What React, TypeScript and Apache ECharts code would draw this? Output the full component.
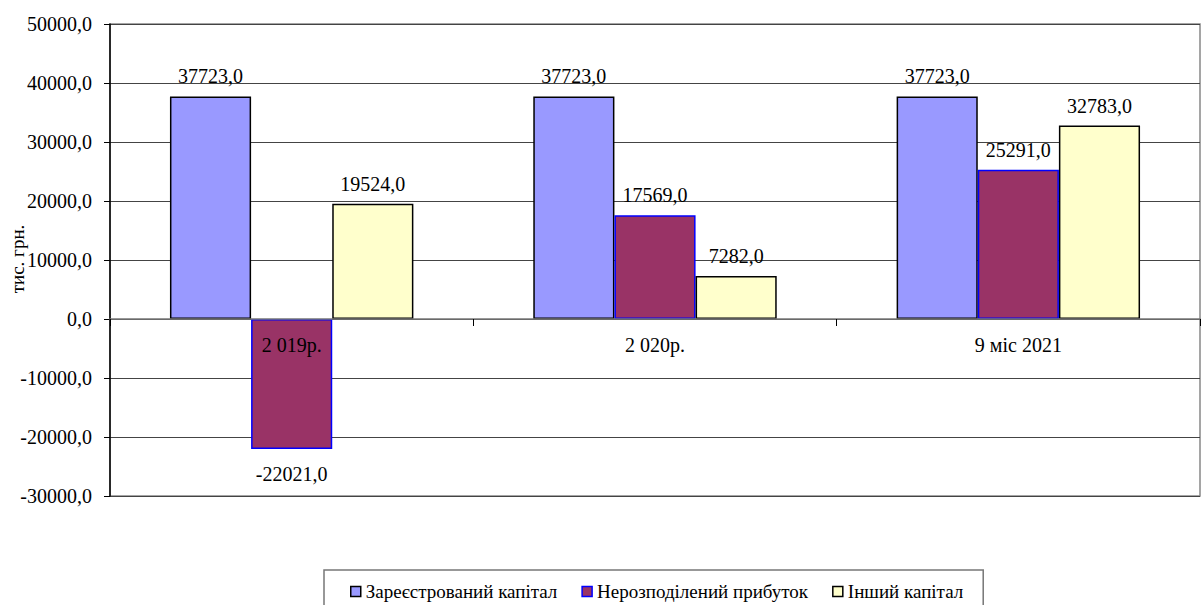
import React, { useEffect, useRef } from "react";
import * as echarts from "echarts";

// Equity structure by period, thousand UAH
const categories = ["2 019р.", "2 020р.", "9 міс 2021"];
const seriesNames = ["Зареєстрований капітал", "Нерозподілений прибуток", "Інший капітал"];
const registeredCapital = [37723, 37723, 37723];
const retainedEarnings = [-22021, 17569, 25291];
const otherCapital = [19524, 7282, 32783];
const unitLabel = "тис. грн.";

const FONT = "'Liberation Serif', 'DejaVu Serif', 'Times New Roman', serif";

const fmt = (v: number) => v.toFixed(1).replace(".", ",");

const barStyles = [
  { color: "#9999FF", borderColor: "#000000", borderWidth: 1.5 },
  { color: "#993366", borderColor: "#0000FF", borderWidth: 1.5 },
  { color: "#FFFFCC", borderColor: "#000000", borderWidth: 1.5 },
];

// negative values carry their label below the bar end
function makeData(values: number[]) {
  return values.map((v) => ({
    value: v,
    label: v < 0 ? { position: "bottom", distance: 15 } : { position: "top", distance: 10 },
  }));
}

export default function App() {
  const ref = useRef<HTMLDivElement>(null);

  useEffect(() => {
    if (!ref.current) return;
    const chart = echarts.init(ref.current, null, { renderer: "svg" });
    const valueSets = [registeredCapital, retainedEarnings, otherCapital];

    const txt = { fontFamily: FONT, color: "#000000" };

    chart.setOption({
      animation: false,
      backgroundColor: "#ffffff",
      textStyle: { fontFamily: FONT },
      grid: {
        left: 110,
        right: 2,
        top: 24,
        bottom: 109,
        containLabel: false,
        outerBoundsMode: "none",
        show: true,
        borderColor: "#888888",
        borderWidth: 1.5,
      },
      graphic: [
        {
          type: "text",
          x: 17,
          y: 259,
          rotation: Math.PI / 2,
          style: {
            text: unitLabel,
            fontFamily: FONT,
            fontSize: 19,
            fill: "#000000",
            align: "center",
            verticalAlign: "middle",
          },
        },
      ],
      legend: {
        left: 324,
        top: 570,
        padding: [12, 20, 30, 26],
        borderColor: "#777777",
        borderWidth: 1.5,
        itemWidth: 10,
        itemHeight: 10,
        itemGap: 24,
        icon: "rect",
        textStyle: { ...txt, fontSize: 19 },
        data: seriesNames.map((name, i) => ({
          name,
          itemStyle: barStyles[i],
        })),
      },
      xAxis: {
        type: "category",
        data: categories,
        z: 5,
        // zero sits 177px above the bottom of the plot (-30000..0 of 80000 over 472px)
        offset: -177,
        axisLine: { onZero: false, lineStyle: { color: "#777777", width: 1.5 } },
        axisTick: { show: true, length: 7, lineStyle: { color: "#000000" } },
        axisLabel: { ...txt, margin: 16, fontSize: 20 },
      },
      yAxis: {
        type: "value",
        min: -30000,
        max: 50000,
        interval: 10000,
        axisLine: { show: true, lineStyle: { color: "#000000", width: 1.5 } },
        axisTick: { show: true, length: 6, lineStyle: { color: "#000000" } },
        axisLabel: {
          ...txt,
          margin: 18,
          fontSize: 20,
          formatter: (v: number) => fmt(v),
        },
        splitLine: { lineStyle: { color: "#444444", width: 1 } },
      },
      series: valueSets.map((vals, i) => ({
        name: seriesNames[i],
        type: "bar",
        barGap: "0%",
        barCategoryGap: "33%",
        itemStyle: barStyles[i],
        label: {
          ...txt,
          show: true,
          fontSize: 20,
          formatter: (p: any) => fmt(p.value),
        },
        data: makeData(vals),
      })),
    });

    return () => chart.dispose();
  }, []);

  return (
    <div
      ref={ref}
      style={{ position: "fixed", left: 0, top: 0, width: 1202, height: 605 }}
    />
  );
}
